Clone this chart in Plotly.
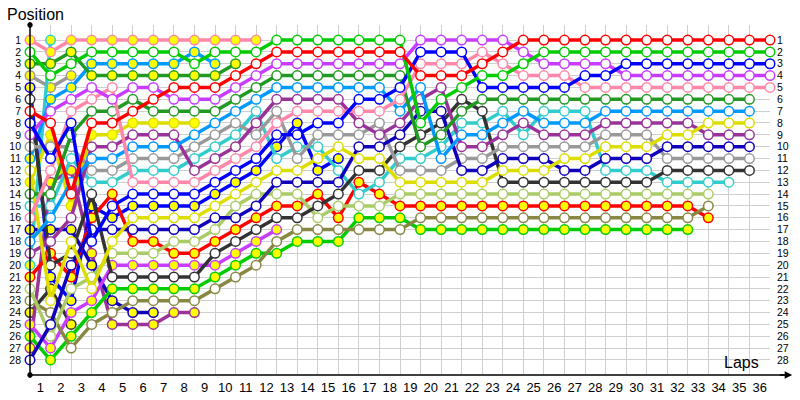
import plotly.graph_objects as go

# ---------------- data ----------------
lap_points = list(range(0, 37))             # lap boundaries (0 = start)
lap_labels = [str(i) for i in range(1, 37)]  # labels between boundaries
position_ticks = list(range(1, 29))

# positions per lap boundary (index 0 = start); series end when car stops
red_w = [7, 8, 14, 8, 8, 7, 6, 5, 5, 5, 4, 3] + [2] * 7 + [4, 4, 4, 3, 2] + [1] * 13
green_w = [2, 4, 3, 2, 2, 2, 2, 2, 3, 2, 2, 2] + [1] * 7 + [8, 6, 5, 4, 4, 3] + [2] * 12
blue_w = [8, 11, 8, 18, 15, 14, 14, 14, 14, 13, 12, 11, 9, 9, 8, 8, 6, 6, 5,
          2, 2, 2, 5, 5, 5, 5, 5, 4, 4] + [3] * 8
violet_w = [9, 7, 6, 5, 6, 5, 5, 6, 6, 6, 5, 4] + [3] * 7 + [1] * 5 + [2] + [3] * 4 + [4] * 8
pink_w = [16, 12, 7, 6, 5, 13, 13, 13, 13, 12, 11, 10, 8] + [7] * 5 + \
         [6, 3, 3, 3, 2, 3, 4, 4, 4] + [5] * 10
dkgreen_w = [14, 14, 9, 7, 7, 6, 7, 7, 7, 7, 6, 5] + [4] * 7 + [10, 9, 7] + [6] * 14
ltblue_w = [18, 16, 13, 11, 11, 10, 10, 10, 9, 8, 7, 6] + [5] * 6 + \
           [7, 5, 11, 9, 9, 8, 7, 8, 8, 8] + [7] * 8
yellow_w = [12, 23, 18, 22, 18, 16, 16, 16, 16, 15, 14, 13, 12, 12, 11, 10, 11, 11] + \
           [13] * 5 + [12, 12, 12, 11, 11, 10, 10, 10, 9, 9] + [8] * 3
purple_w = [19, 18, 16, 10, 10, 9, 9, 9, 12, 11, 10, 8] + [6] * 4 + \
           [8, 9, 8, 6, 5, 10, 10, 9, 8, 9, 9, 9] + [8] * 5 + [9] * 3
navy_w = [28, 25, 20, 17, 17, 17, 17, 17, 17, 16, 16, 15] + [13] * 4 + \
         [10, 10, 9, 7, 7, 12, 12, 11, 11, 11, 12, 12] + [11] * 3 + [10] * 5
grey_w = [10, 10, 10, 12, 12, 11, 11, 11, 10, 9, 8, 9, 7, 11, 9, 9, 9, 8] + \
         [12] * 3 + [11, 11] + [10] * 5 + [9] * 3 + [11] * 5
dark_w = [6, 20, 19, 14, 21, 21, 21, 21, 21, 19, 18, 17, 16, 16, 15, 14, 12, 12, 10,
          9, 8, 6, 7] + [13] * 8 + [12] * 5
cyan_w = [15, 15, 11, 13, 13, 12, 12, 12, 11, 10, 9, 7, 11, 10, 10, 12, 14, 13, 11,
          11, 10, 8, 8, 7, 9, 7, 7, 7] + [12] * 3 + [13] * 4
ltgreen_w = [22, 26, 22, 21, 19, 19, 19, 18, 18, 17, 15, 14, 14, 14, 16, 15, 15, 15] + [14] * 16
olive_w = [23, 24, 27, 25, 24, 23, 23, 23, 23, 22, 21, 20, 18, 17, 17, 17, 17, 17, 17] + \
          [16] * 14 + [15]
red_y = [21, 19, 21, 16, 14, 18, 18, 19, 19, 18, 17, 16, 15, 15, 14, 16, 13, 14] + [15] * 15 + [16]
green_y = [26, 28, 26, 24, 22, 22, 22, 22, 22, 21, 20, 19, 19, 18, 18, 18, 16, 16, 16] + [17] * 14
pink_y = [1, 2, 1, 1, 1, 1, 1, 1, 1, 1, 1, 1]
dkgreen_y = [3, 3, 2, 4, 4, 4, 4, 4, 4, 4, 3]
ltblue_y = [11, 6, 5, 3, 3, 3, 3, 3, 2, 3]
grey_y = [4, 5, 4]
blue_y = [5, 21, 23, 15, 16, 15, 15, 15, 15, 14, 13, 12, 10, 8, 12, 11]
navy_y = [17, 17, 17, 20, 23, 24, 24]
violet_y = [25, 27, 24, 23, 20, 20, 20, 20, 20, 20, 19, 18, 17]
purple_y = [27, 13, 12, 19, 25, 25, 25, 24, 24]
cyan_y = [20, 1]
dark_y = [24, 22, 25]
yellow_y = [13, 9, 15, 9, 9, 8, 8, 8, 8]

# ---------------- styles ----------------
COL = {
    "red": "#FF0000", "green": "#00CC00", "blue": "#0000FF", "violet": "#C83CFF",
    "pink": "#FF88AA", "dkgreen": "#229922", "ltblue": "#0099FF", "yellow": "#DDDD00",
    "purple": "#993399", "navy": "#1100BB", "grey": "#999999", "dark": "#333333",
    "cyan": "#33CCCC", "ltgreen": "#AACC66", "olive": "#888844",
}
WHITE, YEL = "#FFFFFF", "#FFFF00"

series = [
    (grey_y, "grey", YEL), (dark_y, "dark", YEL), (cyan_y, "cyan", YEL),
    (yellow_y, "yellow", YEL), (purple_y, "purple", YEL), (navy_y, "navy", YEL),
    (violet_y, "violet", YEL), (ltblue_y, "ltblue", YEL), (dkgreen_y, "dkgreen", YEL),
    (pink_y, "pink", YEL), (blue_y, "blue", YEL),
    (green_y, "green", YEL), (red_y, "red", YEL), (olive_w, "olive", WHITE),
    (ltgreen_w, "ltgreen", WHITE), (cyan_w, "cyan", WHITE), (dark_w, "dark", WHITE),
    (grey_w, "grey", WHITE), (navy_w, "navy", WHITE), (purple_w, "purple", WHITE),
    (yellow_w, "yellow", WHITE), (ltblue_w, "ltblue", WHITE), (dkgreen_w, "dkgreen", WHITE),
    (pink_w, "pink", WHITE), (violet_w, "violet", WHITE), (blue_w, "blue", WHITE),
    (green_w, "green", WHITE), (red_w, "red", WHITE),
]

fig = go.Figure()
for vals, cname, fill in series:
    c = COL[cname]
    fig.add_trace(go.Scatter(
        x=lap_points[:len(vals)], y=vals, mode="lines+markers",
        line=dict(color=c, width=3.5),
        marker=dict(size=9.5, color=fill, line=dict(color=c, width=1.5)),
        showlegend=False, hoverinfo="skip", cliponaxis=False,
    ))

# invisible trace on the label axis so it renders
fig.add_trace(go.Scatter(x=[0.5], y=[1], xaxis="x2", yaxis="y2", mode="markers",
                         marker=dict(opacity=0), showlegend=False, hoverinfo="skip"))

FONT = "Liberation Sans, Arial, sans-serif"
yr = [29.27, -0.27]
fig.update_layout(
    width=800, height=400, margin=dict(l=30, r=30, t=25, b=25, autoexpand=False),
    paper_bgcolor="white", plot_bgcolor="white",
    xaxis=dict(range=[0, 36], tickvals=lap_points, showticklabels=False,
               showgrid=True, gridcolor="#CFCFCF", gridwidth=1, zeroline=False,
               showline=False, ticks="", automargin=False),
    xaxis2=dict(range=[0, 36], overlaying="x", side="bottom",
                tickvals=[i + 0.5 for i in range(36)], ticktext=lap_labels,
                showgrid=False, zeroline=False, showline=False, ticks="",
                tickfont=dict(family=FONT, size=13, color="#000"),
                ticklabelstandoff=3, automargin=False),
    yaxis=dict(range=yr, tickvals=position_ticks, ticktext=[str(p) for p in position_ticks],
               showgrid=True, gridcolor="#CFCFCF", gridwidth=1, zeroline=False,
               showline=False, ticks="", ticklabelstandoff=8, automargin=False,
               tickfont=dict(family=FONT, size=10.5, color="#000")),
    yaxis2=dict(range=yr, overlaying="y", side="right", tickvals=position_ticks,
                ticktext=[str(p) for p in position_ticks], showgrid=False,
                zeroline=False, showline=False, ticks="", ticklabelstandoff=6,
                automargin=False, tickfont=dict(family=FONT, size=10.5, color="#000")),
    shapes=[
        dict(type="line", xref="paper", yref="paper", x0=0, x1=1.022, y0=0, y1=0,
             line=dict(color="#000", width=1.5)),
        dict(type="line", xref="paper", yref="paper", x0=0, x1=0, y0=0, y1=1,
             line=dict(color="#000", width=1.5)),
        dict(type="circle", xref="paper", yref="paper", x0=-0.003, x1=0.003,
             y0=0.993, y1=1.007, fillcolor="#000", line=dict(color="#000", width=1)),
        dict(type="circle", xref="paper", yref="paper", x0=-0.003, x1=0.003,
             y0=-0.007, y1=0.007, fillcolor="#000", line=dict(color="#000", width=1)),
    ],
    annotations=[
        dict(text="Position", xref="paper", yref="paper", x=-0.034, y=1.0,
             xanchor="left", yanchor="bottom", showarrow=False,
             font=dict(family=FONT, size=16, color="#000")),
        dict(text="Laps", xref="paper", yref="paper", x=0.988, y=0.005,
             xanchor="right", yanchor="bottom", showarrow=False,
             font=dict(family=FONT, size=16, color="#000")),
        dict(text="", xref="paper", yref="paper", x=1.03, y=0, ax=-14, ay=0,
             showarrow=True, arrowhead=2, arrowsize=1, arrowwidth=1.5, arrowcolor="#000"),
    ],
)

fig.write_html("out.html", config={"displayModeBar": False, "staticPlot": True},
               post_script="document.body.style.margin='0px';document.body.style.padding='0px';")
